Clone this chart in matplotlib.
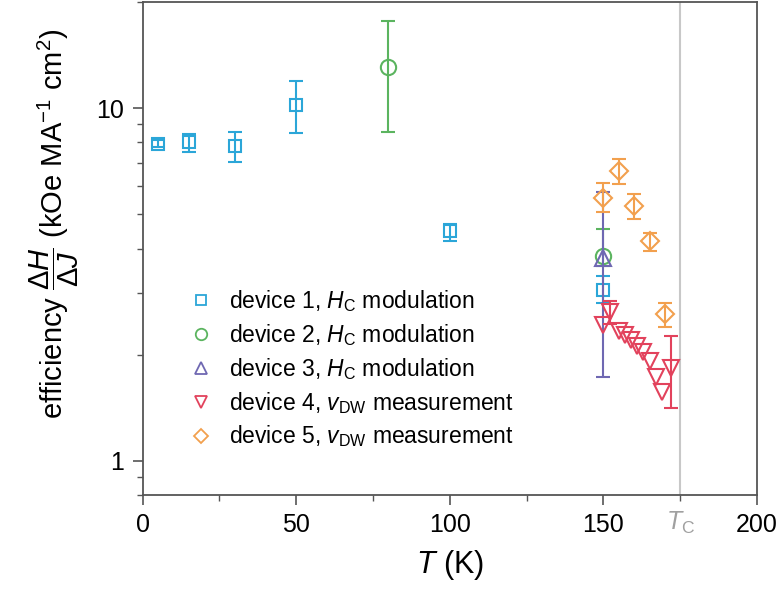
import numpy as np
import matplotlib
matplotlib.use("Agg")
import matplotlib.pyplot as plt
from matplotlib.lines import Line2D
from matplotlib.ticker import FixedLocator, NullFormatter

# data (T in K, efficiency in kOe MA^-1 cm^2)
d1_T = [5, 15, 30, 50, 100, 150]
d1_eff = [7.93, 8.0, 7.79, 10.2, 4.48, 3.06]
d1_hi = [8.12, 8.46, 8.54, 11.95, 4.69, 3.34]
d1_lo = [7.75, 7.51, 7.02, 8.5, 4.21, 2.81]

d2_T = [80, 150]
d2_eff = [13.1, 3.8]
d2_hi = [17.7, 4.55]
d2_lo = [8.57, 3.58]

d3_T = [150]
d3_eff = [3.75]
d3_hi = [5.8]
d3_lo = [1.73]

d4_T = [150, 152, 155, 157, 159, 161, 163, 165, 167, 169, 172]
d4_eff = [2.42, 2.64, 2.33, 2.28, 2.20, 2.12, 2.03, 1.92, 1.73, 1.57, 1.83]
d4_hi = [2.42, 2.84, 2.33, 2.28, 2.20, 2.12, 2.03, 1.92, 1.73, 1.57, 2.26]
d4_lo = [2.42, 2.45, 2.33, 2.28, 2.20, 2.12, 2.03, 1.92, 1.73, 1.57, 1.41]

d5_T = [150, 155, 160, 165, 170]
d5_eff = [5.56, 6.62, 5.29, 4.19, 2.60]
d5_hi = [6.14, 7.17, 5.70, 4.42, 2.81]
d5_lo = [5.07, 6.11, 4.86, 3.94, 2.39]

T_curie = 175

plt.rcParams['font.family'] = ['Liberation Sans', 'DejaVu Sans']
plt.rcParams['mathtext.fontset'] = 'custom'
plt.rcParams['mathtext.rm'] = 'Liberation Sans'
plt.rcParams['mathtext.it'] = 'Liberation Sans:italic'
plt.rcParams['mathtext.bf'] = 'Liberation Sans:bold'

series = [
    (d1_T, d1_eff, d1_hi, d1_lo, 's', '#2ba6d8', 9, r'device 1, $H_\mathrm{C}$ modulation'),
    (d2_T, d2_eff, d2_hi, d2_lo, 'o', '#5bb45f', 11, r'device 2, $H_\mathrm{C}$ modulation'),
    (d3_T, d3_eff, d3_hi, d3_lo, '^', '#6f68b2', 12, r'device 3, $H_\mathrm{C}$ modulation'),
    (d4_T, d4_eff, d4_hi, d4_lo, 'v', '#e2425c', 12, r'device 4, $v_\mathrm{DW}$ measurement'),
    (d5_T, d5_eff, d5_hi, d5_lo, 'D', '#f2a04e', 9, r'device 5, $v_\mathrm{DW}$ measurement'),
]

fig = plt.figure(figsize=(7.83, 5.96), dpi=100)
ax = fig.add_axes([0.182, 0.1695, 0.785, 0.827])

ax.axvline(T_curie, color='#c8c8c8', lw=1.5, zorder=0)

handles = []
for T, eff, hi, lo, mk, col, ms, lab in series:
    T = np.array(T)
    eff = np.array(eff)
    hi = np.array(hi)
    lo = np.array(lo)
    has_err = (hi > eff) | (lo < eff)
    if has_err.any():
        yerr = np.vstack([eff - lo, hi - eff])[:, has_err]
        ax.errorbar(T[has_err], eff[has_err], yerr=yerr, fmt='none',
                    ecolor=col, elinewidth=1.5, capsize=5, capthick=1.5)
    ax.plot(T, eff, linestyle='none', marker=mk, ms=ms, mfc='none',
            mec=col, mew=1.5)
    handles.append(Line2D([], [], linestyle='none', marker=mk, ms=ms * 0.75,
                          mfc='none', mec=col, mew=1.3, label=lab))

ax.set_yscale('log')
ax.set_xlim(0, 200)
ax.set_ylim(0.8, 20)

ax.set_xticks([0, 50, 100, 150, 200])
ax.xaxis.set_minor_locator(FixedLocator([25, 75, 125, 175]))
ax.set_yticks([1, 10])
ax.set_yticklabels(['1', '10'])
ax.yaxis.set_minor_formatter(NullFormatter())

ax.tick_params(which='major', direction='out', length=7, width=1.2,
               labelsize=18, color='#555555', pad=6)
ax.tick_params(which='minor', direction='out', length=4, width=1.0,
               color='#555555')
for sp in ax.spines.values():
    sp.set_color('#555555')
    sp.set_linewidth(1.3)

ax.text(T_curie, -0.03, r'$T_\mathrm{C}$', color='#a0a0a0', fontsize=18,
        ha='center', va='top', transform=ax.get_xaxis_transform())

ax.set_xlabel(r'$T$ (K)', fontsize=22, labelpad=8)
ax.set_ylabel(r'efficiency $\dfrac{\mathit{\Delta H}}{\mathit{\Delta J}}$ (kOe MA$^{-1}$ cm$^2$)',
              fontsize=21)
ax.yaxis.set_label_coords(-0.1, 0.55)

ax.legend(handles=handles, loc='upper left', bbox_to_anchor=(0.04, 0.462),
          frameon=False, fontsize=16.5, handletextpad=0.6, labelspacing=0.35,
          handlelength=1.2)

fig.savefig('out.png', dpi=100)
